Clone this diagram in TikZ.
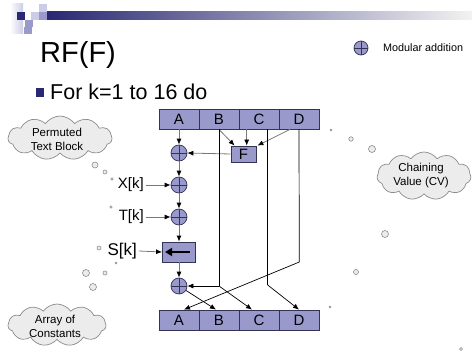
\documentclass[tikz,border=0pt]{standalone}
\usepackage{fontspec}
\setmainfont{Liberation Sans}
\usetikzlibrary{shapes.symbols,arrows.meta,calc}
\definecolor{regfill}{RGB}{153,153,204}
\definecolor{regedge}{RGB}{51,51,85}
\definecolor{navy}{RGB}{40,40,115}
\definecolor{lightlav}{RGB}{204,204,230}
\definecolor{midlav}{RGB}{153,153,204}
\definecolor{cloudfill}{RGB}{236,236,236}
\definecolor{cloudedge}{RGB}{140,140,140}
\definecolor{flowgray}{RGB}{120,120,120}
\tikzset{
  regbox/.style={draw=regedge, fill=regfill, line width=0.8pt, minimum width=40pt, minimum height=20pt, inner sep=0pt, font=\fontsize{15}{18}\selectfont},
  adder/.style={circle, draw=regedge, fill=regfill, line width=0.7pt, minimum size=#1, inner sep=0pt,
    path picture={\draw[regedge, line width=0.7pt] (path picture bounding box.north) -- (path picture bounding box.south) (path picture bounding box.west) -- (path picture bounding box.east);}},
  adder/.default=16pt,
  garrow/.style={draw=flowgray, line width=0.8pt, -{Latex[length=6pt,width=5pt,color=black]}},
  bline/.style={draw=black, line width=0.7pt},
  barrow/.style={bline, -{Latex[length=6pt,width=5pt,color=black]}},
  cloudbox/.style={cloud, cloud puffs=11, cloud puff arc=110, cloud ignores aspect, draw=cloudedge, fill=cloudfill, line width=0.7pt, inner sep=0pt},
  bubble/.style={circle, draw=cloudedge, fill=cloudfill, line width=0.6pt, inner sep=0pt, minimum size=#1},
  cloudtext/.style={align=center, font=\fontsize{11.5}{14}\selectfont, inner sep=0pt},
  labeltext/.style={font=\fontsize{15}{18}\selectfont, inner sep=2pt}
}
\begin{document}
\begin{tikzpicture}[x=1pt,y=-1pt]
\useasboundingbox (0,0) rectangle (472,353);

% slide header decoration
\shade[left color=white, right color=lightlav] (10,4) rectangle (23,34);
\fill[navy] (17,12) rectangle (25,20);
\fill[lightlav] (31,12) rectangle (39,20);
\fill[lightlav] (39,4) rectangle (47,12);
\fill[midlav] (39,12) rectangle (47,20);
\fill[midlav] (25,20) rectangle (33,27);
\fill[midlav] (24,27) rectangle (32,34);
\shade[left color=navy, right color=gray!10] (47,12) rectangle (472,20);

% title and bullet
\node[anchor=base west, inner sep=0pt, font=\fontsize{29}{34}\selectfont] (title) at (40,63) {RF(F)};
\fill[navy] (36,88) rectangle (44,97);
\node[anchor=base west, inner sep=0pt, font=\fontsize{21.5}{26}\selectfont] (loop) at (50,100) {For k=1 to 16 do};

% legend
\node[adder=14pt] (leg) at (361,48) {};
\node[anchor=west, inner sep=0pt, font=\fontsize{10.8}{13}\selectfont] (legtxt) at (383,48) {Modular addition};

% input and output registers
\node[regbox] (tA) at (179,119) {A};
\node[regbox] (tB) at (219,119) {B};
\node[regbox] (tC) at (259,119) {C};
\node[regbox] (tD) at (299,119) {D};
\node[regbox] (bA) at (179,320) {A};
\node[regbox] (bB) at (219,320) {B};
\node[regbox] (bC) at (259,320) {C};
\node[regbox] (bD) at (299,320) {D};

% round function parts
\node[adder] (a1) at (179,153) {};
\node[adder] (a2) at (179,185) {};
\node[adder] (a3) at (179,217) {};
\node[adder] (a4) at (179,286) {};
\node[regbox, minimum width=25pt, minimum height=16pt] (F) at (243.5,154) {F};
\node[regbox, minimum width=33pt, minimum height=20pt] (rot) at (179,252) {};
\draw[line width=2.4pt, -{Triangle[length=7pt,width=8pt]}] ($(rot.east)+(-6,0)$) -- ($(rot.west)+(3,0)$);

% inputs of each step
\node[labeltext, anchor=east] (xk) at (146,185) {X[k]};
\node[labeltext, anchor=east] (tk) at (146,217) {T[k]};
\node[labeltext, anchor=east, font=\fontsize{17}{20}\selectfont] (sk) at (139,251) {S[k]};

% chain through the adders
\draw[garrow] (tA.south) -- (a1.north);
\draw[garrow] (a1) -- (a2);
\draw[garrow] (a2) -- (a3);
\draw[garrow] (a3) -- (rot.north);
\draw[garrow] (rot.south) -- (a4.north);
\draw[garrow] (F.west) -- (a1.east);
\draw[garrow] (xk.east) -- (a2.west);
\draw[garrow] (tk.east) -- (a3.west);
\draw[garrow] (sk.east) -- (rot.west);

% B, C, D into F
\coordinate (fB) at (tB.south);
\coordinate (fC) at ($(tC.south)+(-12.3,0)$);
\coordinate (fD) at ($(tD.south)+(-9,0)$);
\draw[garrow] (fB) -- ($(F.north west)+(4,0)$);
\draw[garrow] (fC) -- (fC |- F.north);
\draw[garrow] (fD) -- ($(F.north east)+(1,0)$);

% word permutation to the output register
\coordinate (cTop) at ($(tC.south)+(8.7,0)$);
\coordinate (bTurn) at (219,286);
\coordinate (cTurn) at (267.7,285);
\coordinate (dTurn) at (299.3,262);
\draw[bline] (tB.south) -- (bTurn);
\draw[barrow] (bTurn) -- (a4.east);
\draw[barrow] (bTurn) -- ($(bC.north)+(-7,0)$);
\draw[bline] (cTop) -- (cTurn);
\draw[barrow] (cTurn) -- (bD.north);
\draw[bline] (tD.south) -- (dTurn);
\draw[barrow] (dTurn) -- ($(bA.north)+(5,0)$);
\draw[barrow] (a4) -- ($(bB.north)+(-3,0)$);

% callouts
\node[cloudbox, minimum width=104pt, minimum height=44pt] (ptb) at (60,138) {};
\node[cloudtext] (ptbtxt) at (57,139) {Permuted\\Text Block};
\node[bubble=6pt] (p1) at (95,165) {};
\node[bubble=4pt] (p2) at (105,172) {};
\node[bubble=2.4pt] (p3) at (112,179) {};
\node[bubble=2.4pt] (t1) at (111,207) {};

\node[cloudbox, minimum width=98pt, minimum height=42pt] (aoc) at (57,325) {};
\node[cloudtext] (aoctxt) at (55,326) {Array of\\Constants};
\node[bubble=4pt] (s1) at (99,248) {};
\node[bubble=2pt] (s2) at (116,263) {};
\node[bubble=4pt] (s3) at (105,273) {};
\node[bubble=7pt] (s4) at (86,273) {};
\node[bubble=7pt] (s5) at (93,287) {};

\node[cloudbox, minimum width=94pt, minimum height=48pt] (cv) at (424,176) {};
\node[cloudtext] (cvtxt) at (421,176) {Chaining\\Value (CV)};
\node[bubble=2pt] (c1) at (331,130) {};
\node[bubble=4.5pt] (c2) at (351,139) {};
\node[bubble=7pt] (c3) at (372,149) {};
\node[bubble=7pt] (c4) at (385,234) {};
\node[bubble=5pt] (c5) at (356,272) {};
\node[bubble=2pt] (c6) at (330,307) {};
\node[bubble=3pt] (c7) at (461,349) {};
\end{tikzpicture}
\end{document}
